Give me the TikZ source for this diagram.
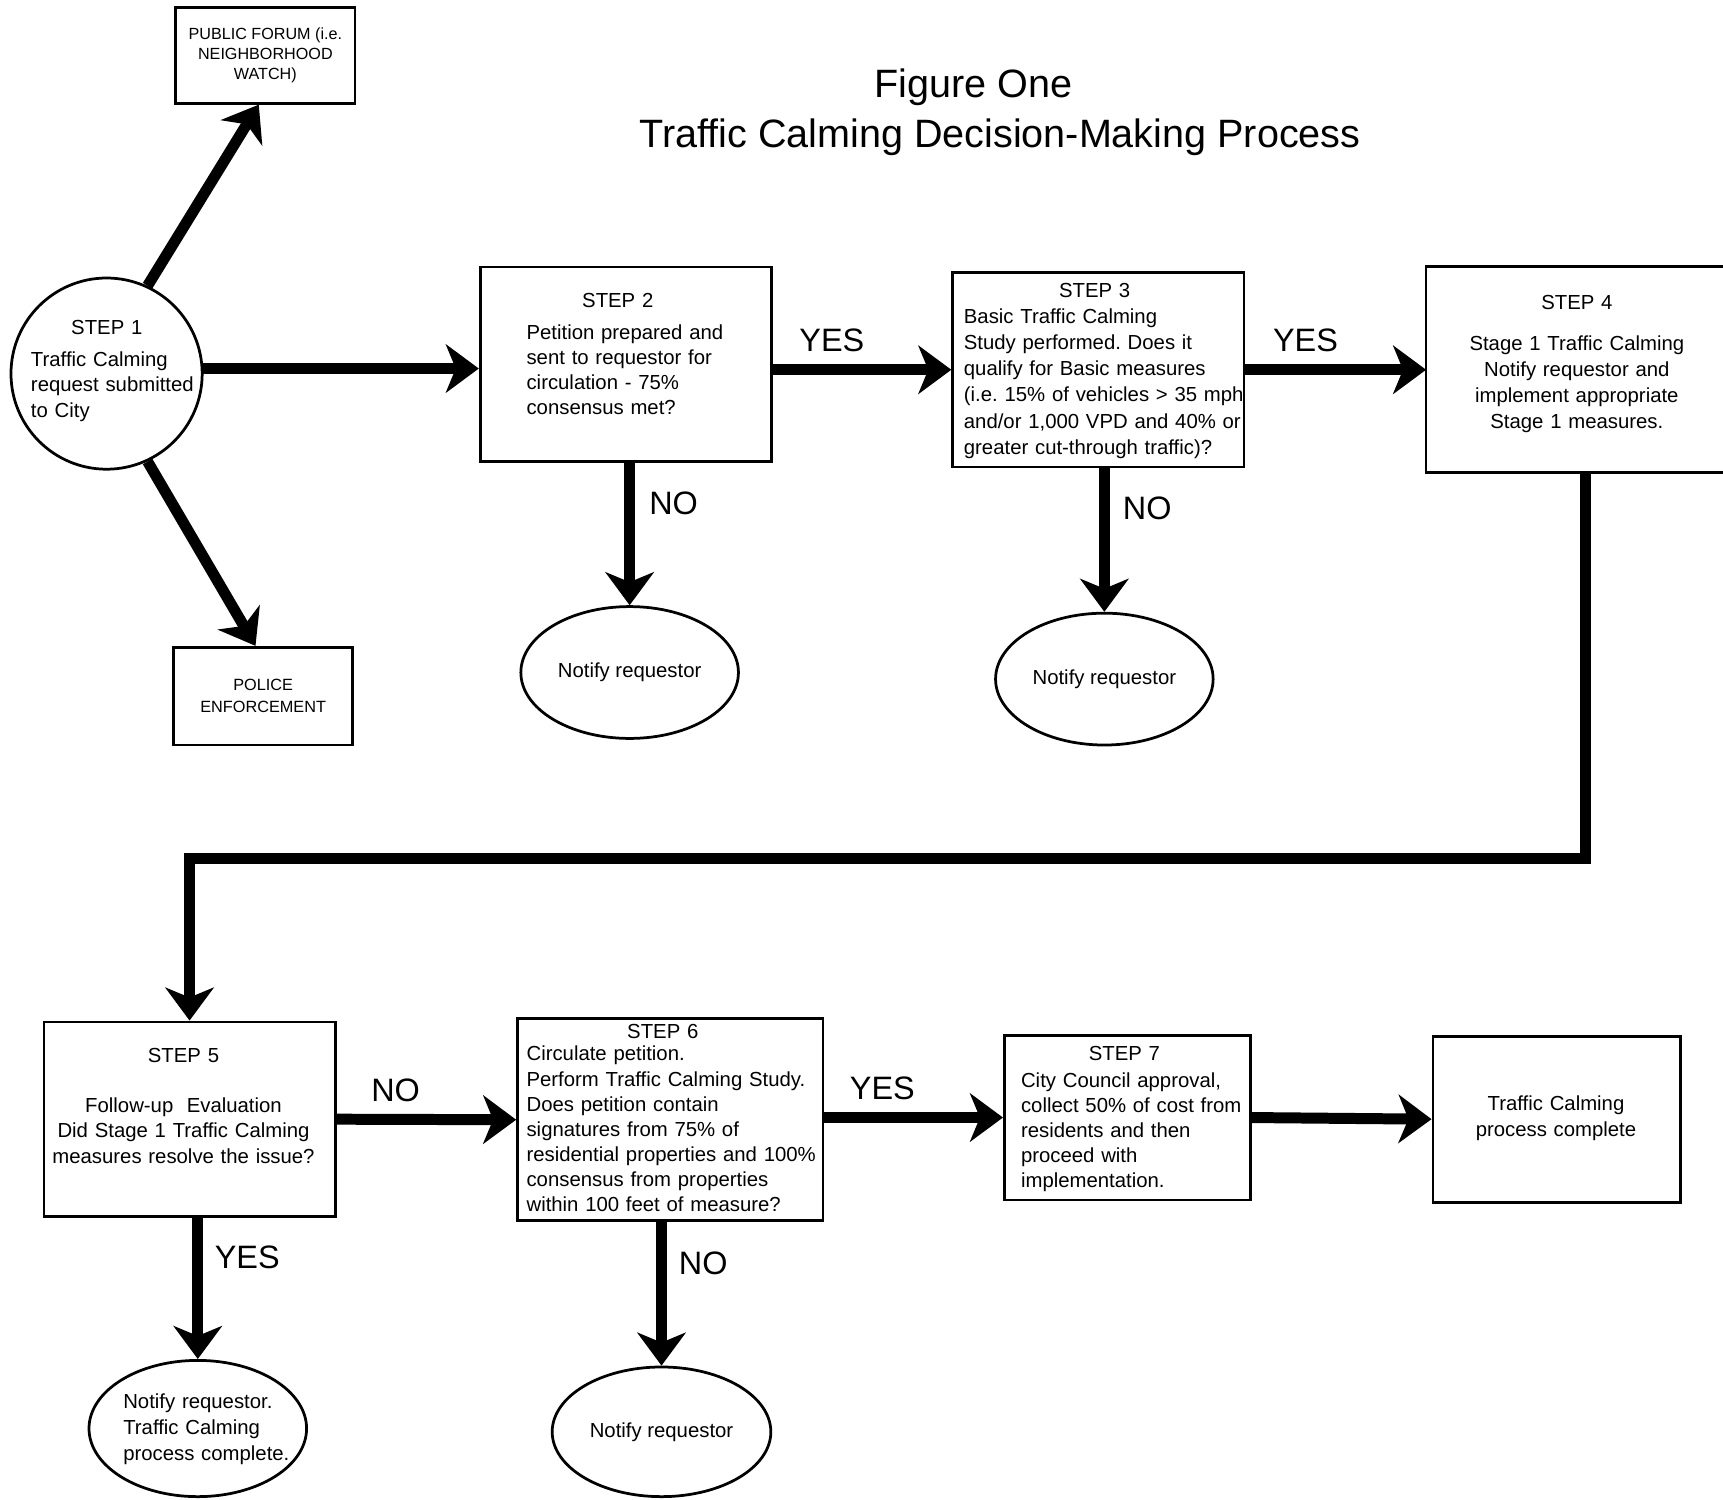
\documentclass[tikz,border=0pt]{standalone}
\usepackage{fontspec}
\setmainfont{Liberation Sans}
\usetikzlibrary{arrows.meta,shapes.geometric}
\frenchspacing
\begin{document}
\begin{tikzpicture}[x=1pt,y=-1pt,
  box/.style={draw, line width=2.5pt, rectangle, inner sep=0pt},
  oval/.style={draw, ellipse, line width=2.5pt, inner sep=0pt, font=\fontsize{18.5}{23}\selectfont},
  txt/.style={inner sep=0pt, align=left, font=\fontsize{18.5}{23}\selectfont},
  small/.style={font=\fontsize{14.7}{18}\selectfont, align=center},
  arr/.style={line width=10pt, -{Stealth[length=30pt,width=44pt,inset=9pt]}},
  lab/.style={font=\fontsize{29.5}{30}\selectfont, inner sep=0pt},
  ttl/.style={font=\fontsize{36}{40}\selectfont, inner sep=0pt, anchor=base},
]
\useasboundingbox (0,0) rectangle (1568,1365);

% title
\node[ttl] (t1) at (886,89) {Figure One};
\node[ttl] (t2) at (910,134) {Traffic Calming Decision-Making Process};

% side boxes
\node[box, small, minimum width=163pt, minimum height=87pt] (pf) at (241.5,50.5)
  {PUBLIC FORUM (i.e.\\NEIGHBORHOOD\\WATCH)};
\node[box, font=\fontsize{14.8}{20}\selectfont, align=center, minimum width=163pt, minimum height=89pt] (pol) at (239.5,633.5)
  {POLICE\\ENFORCEMENT};

% step 1
\node[draw, circle, line width=2.5pt, minimum size=174pt, inner sep=0pt] (s1) at (97,340) {};
\node[txt, anchor=north west, text width=150pt] (s1t) at (28,291.4)
  {\makebox[138pt][c]{STEP 1}\\[6pt]Traffic Calming\\request submitted\\to City};

% step 2
\node[box, minimum width=265pt, minimum height=177pt] (s2) at (569.5,331.5) {};
\node[txt, anchor=north west, text width=185pt] (s2t) at (479,266.4)
  {\makebox[166pt][c]{STEP 2}\\[6pt]Petition prepared and\\sent to requestor for\\circulation - 75\%\\consensus met?};

% step 3
\node[box, minimum width=265pt, minimum height=177pt] (s3) at (999.5,336.5) {};
\node[txt, anchor=north west, text width=265pt, font=\fontsize{18.5}{23.8}\selectfont] (s3t) at (877,257.4)
  {\makebox[238pt][c]{STEP 3}\\Basic Traffic Calming\\Study performed. Does it\\qualify for Basic measures\\(i.e. 15\% of vehicles > 35 mph\\and/or 1,000 VPD and 40\% or\\greater cut-through traffic)?};

% step 4 (box runs off the right edge)
\node[minimum width=270pt, minimum height=187pt, inner sep=0pt] (s4) at (1433,336.5) {};
\draw[line width=2.5pt] (s4.north east) -- (s4.north west) -- (s4.south west) -- (s4.south east);
\node[txt, align=center, anchor=north, text width=240pt, font=\fontsize{18.5}{23.7}\selectfont] (s4t) at (1435,268.4)
  {STEP 4\\[13.3pt]Stage 1 Traffic Calming\\Notify requestor and\\implement appropriate\\Stage 1 measures.};

% notify ovals top row
\node[oval, minimum width=198pt, minimum height=120pt] (n2) at (573,612) {Notify requestor};
\node[oval, minimum width=198pt, minimum height=120pt] (n3) at (1005,618) {Notify requestor};

% step 5
\node[box, minimum width=265pt, minimum height=177pt] (s5) at (172.5,1018.5) {};
\node[txt, align=center, anchor=north, text width=250pt] (s5t) at (167,953.4)
  {STEP 5\\[23pt]Follow-up~~Evaluation\\Did Stage 1 Traffic Calming\\measures resolve the issue?};

% step 6
\node[box, minimum width=278pt, minimum height=184pt] (s6) at (610,1019) {};
\node[txt, anchor=north west, text width=268pt, font=\fontsize{18.5}{22.8}\selectfont] (s6t) at (479,932.4)
  {\makebox[248pt][c]{STEP 6}\\[-2.8pt]Circulate petition.\\Perform Traffic Calming Study.\\Does petition contain\\signatures from 75\% of\\residential properties and 100\%\\consensus from properties\\within 100 feet of measure?};

% step 7
\node[box, minimum width=224pt, minimum height=150pt] (s7) at (1026,1017) {};
\node[txt, anchor=north west, text width=205pt, font=\fontsize{18.5}{22.75}\selectfont] (s7t) at (929,952.4)
  {\makebox[188pt][c]{STEP 7}\\[1.25pt]City Council approval,\\collect 50\% of cost from\\residents and then\\proceed with\\implementation.};

% final
\node[box, minimum width=225pt, minimum height=151pt] (fin) at (1416.5,1018.5) {};
\node[txt, align=center, anchor=north, text width=200pt] (fint) at (1416,997.4)
  {Traffic Calming\\process complete};

% bottom ovals
\node[oval, minimum width=198pt, minimum height=124pt] (n5) at (180,1300) {};
\node[txt, anchor=north west, text width=170pt, font=\fontsize{18.5}{23.5}\selectfont] (n5t) at (112,1268.4)
  {Notify requestor.\\Traffic Calming\\process complete.};
\node[oval, minimum width=199pt, minimum height=118pt] (n6) at (602,1303) {Notify requestor};

% connectors
\draw[arr] (s1.65) -- ([xshift=-6pt]pf.south);
\draw[arr] (s1.-65) -- ([xshift=-7pt]pol.north);
\draw[arr] (s1.3) -- (s1.3 -| s2.west);
\draw[arr] (s3.west -| s2.east) -- (s3.west);
\draw[arr] (s3.east) -- (s4.west);
\draw[arr] (s2.south -| n2) -- (n2.north);
\draw[arr] (s3.south -| n3) -- (n3.north);
\coordinate (bend) at (800,781);
\draw[arr] ([xshift=10pt]s4.south) |- (bend) -| (s5.north);
\draw[arr] (s5.east) -- (s6.west);
\draw[arr] (s7.west -| s6.east) -- (s7.west);
\draw[arr] (s7.east) -- (fin.west);
\draw[arr] (s5.south -| n5) -- (n5.north);
\draw[arr] (s6.south -| n6) -- (n6.north);

% labels
\node[lab] (y1) at (757,310) {YES};
\node[lab] (y2) at (1188,310) {YES};
\node[lab] (no1) at (613,458) {NO};
\node[lab] (no2) at (1044,463) {NO};
\node[lab] (no3) at (360,992) {NO};
\node[lab] (y3) at (803,990) {YES};
\node[lab] (y4) at (225,1144) {YES};
\node[lab] (no4) at (640,1150) {NO};
\end{tikzpicture}
\end{document}
